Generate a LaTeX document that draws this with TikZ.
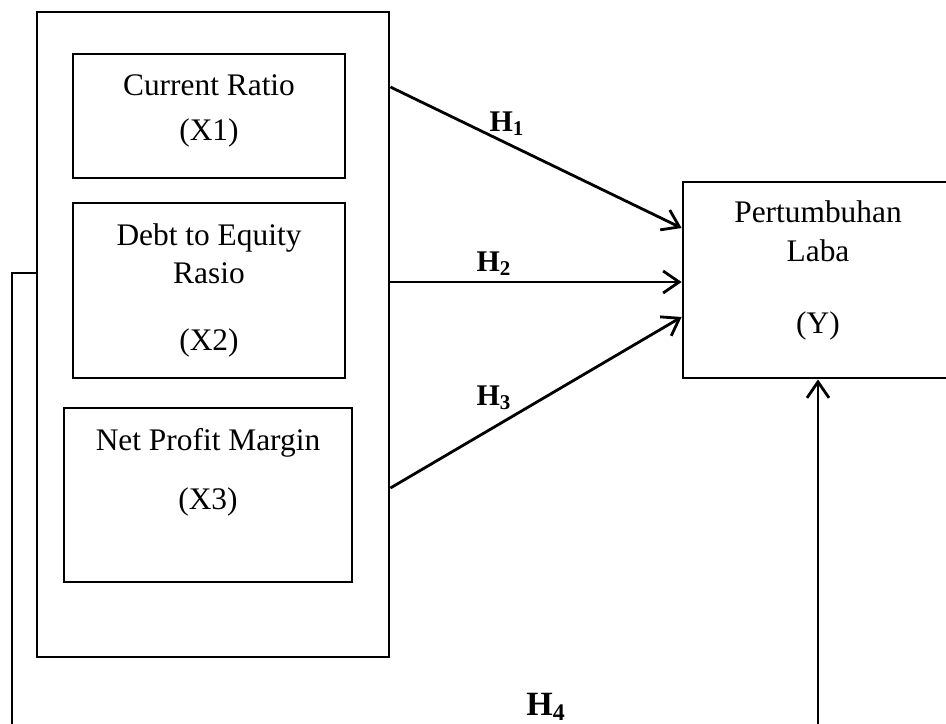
\documentclass[tikz,border=0pt]{standalone}
\usepackage{fontspec}
\setmainfont{Liberation Serif}
\usetikzlibrary{arrows.meta}

\tikzset{
  varbox/.style={draw, line width=1.4pt, inner sep=0pt},
  vartext/.style={align=center, inner sep=0pt, font=\fontsize{15.7}{19}\selectfont},
  hyp/.style={font=\fontsize{15}{18}\selectfont\bfseries},
  arr/.style={line width=1.4pt, -{Straight Barb[length=8pt,width=11pt]}}
}

\begin{document}
\begin{tikzpicture}[x=0.5pt, y=-0.5pt]
  \clip (0,0) rectangle (946,723);
  % variabel independen
  \node[varbox, minimum width=176pt, minimum height=322.5pt] (outer) at (213,334.5) {};
  \node[varbox, minimum width=136pt, minimum height=62pt] (x1) at (209,116) {};
  \node[varbox, minimum width=136pt, minimum height=87.5pt] (x2) at (209,290.5) {};
  \node[varbox, minimum width=144pt, minimum height=87pt] (x3) at (208,495) {};
  % variabel dependen
  \node[varbox, minimum width=135pt, minimum height=98pt] (y) at (818,280) {};

  \node[vartext] (x1t) at (209,111) {Current Ratio\\[3.5pt](X1)};
  \node[vartext] (x2t) at (209,290.5) {Debt to Equity\\Rasio\\[14.5pt](X2)};
  \node[vartext] (x3t) at (208,472) {Net Profit Margin\\[10.5pt](X3)};
  \node[vartext] (yt) at (818,270.5) {Pertumbuhan\\[0.5pt]Laba\\[17pt](Y)};

  \draw[arr] (outer.east |- 0,87) -- (y.west |- 0,228);
  \draw[arr] (outer.east |- 0,282) -- (y.west |- 0,282);
  \draw[arr] (outer.east |- 0,488) -- (y.west |- 0,317);
  \draw[arr] (outer.west |- 0,273) -| (12,740) -| (y.south);

  \node[hyp] (h1) at (507,124) {H\textsubscript{1}};
  \node[hyp] (h2) at (494,264) {H\textsubscript{2}};
  \node[hyp] (h3) at (494,398) {H\textsubscript{3}};
  \node[hyp, font=\fontsize{17}{20}\selectfont\bfseries] (h4) at (546,707) {H\textsubscript{4}};
\end{tikzpicture}
\end{document}
